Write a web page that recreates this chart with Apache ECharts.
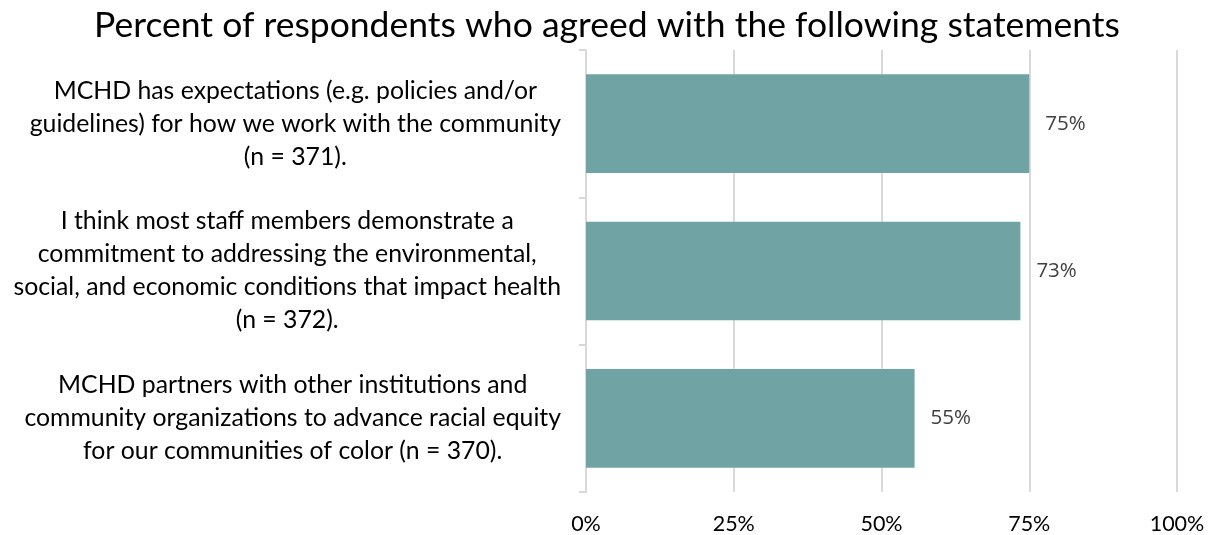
<!DOCTYPE html>
<html><head><meta charset="utf-8">
<script src="https://cdn.jsdelivr.net/npm/echarts@6/dist/echarts.min.js"></script>
<style>html,body{margin:0;padding:0;background:#fff}#c{width:1214px;height:535px}</style>
</head><body><div id="c"></div>
<script>
const titleText = 'Percent of respondents who agreed with the following statements';
const categories = [
  'MCHD has expectations (e.g. policies and/or\nguidelines) for how we work with the community\n(n = 371).',
  'I think most staff members demonstrate a\ncommitment to addressing the environmental,\nsocial, and economic conditions that impact health\n(n = 372).',
  'MCHD partners with other institutions and\ncommunity organizations to advance racial equity\nfor our communities of color (n = 370).'
];
const values = [75.0, 73.5, 55.6];
const valueLabels = ['75%', '73%', '55%'];
const xTicks = [0, 25, 50, 75, 100];

const FONT = 'Lato, "Open Sans", sans-serif';
const chart = echarts.init(document.getElementById('c'));
chart.setOption({
  animation: false,
  title: {
    text: titleText, left: 'center', top: 3,
    textStyle: {fontFamily: FONT, fontSize: 35.5, fontWeight: 'normal', color: '#000'}
  },
  grid: {left: 586, right: 37, top: 50, bottom: 43, containLabel: false},
  xAxis: {
    type: 'value', min: xTicks[0], max: xTicks[xTicks.length - 1], interval: 25,
    axisLine: {show: false}, axisTick: {show: false},
    splitLine: {show: true, lineStyle: {color: '#d9d9d9', width: 2}},
    axisLabel: {formatter: '{value}%', color: '#000', fontFamily: FONT, fontSize: 21.5, margin: 21}
  },
  yAxis: {
    type: 'category', inverse: true, data: categories,
    axisLine: {show: true, lineStyle: {color: '#d9d9d9', width: 2}},
    axisTick: {show: true, length: 7, lineStyle: {color: '#d9d9d9', width: 2}},
    axisLabel: {
      align: 'right', margin: 25,
      formatter: v => v.split('\n').map(s => '{c|' + s + '}').join('\n'),
      rich: {c: {align: 'center', color: '#000', fontFamily: FONT, fontSize: 24.8, lineHeight: 33}}
    }
  },
  series: [{
    type: 'bar', data: values, barCategoryGap: '33%',
    itemStyle: {color: '#70a3a4'},
    label: {
      show: true, position: 'right', distance: 16,
      formatter: p => valueLabels[p.dataIndex],
      color: '#404040', fontFamily: '"Open Sans", sans-serif', fontSize: 20.5
    }
  }]
});
</script></body></html>
